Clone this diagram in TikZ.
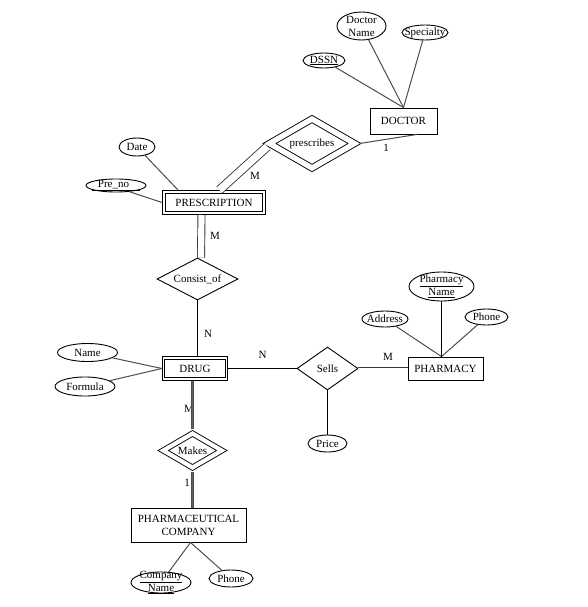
\documentclass[tikz,border=0pt]{standalone}
\usepackage{fontspec}
\setmainfont{Liberation Serif}
\usetikzlibrary{
    shapes.geometric,
    positioning
}
\tikzset{erent/.style={rectangle, draw=black, line width=0.9pt, inner sep=0pt}}
\tikzset{erweak/.style={erent, double, double distance=2.3pt, outer sep=2pt}}
\tikzset{erattr/.style={ellipse, draw=black, line width=0.9pt, inner sep=0pt}}
\tikzset{errel/.style={diamond, aspect=1.8, draw=black, line width=0.9pt, inner sep=0pt}}
\tikzset{erwrel/.style={errel, double, double distance=4.2pt, outer sep=3pt}}
\tikzset{attl/.style={draw=gray!60!black, line width=1pt}}
\tikzset{dbl/.style={draw=gray!45!black, line width=0.9pt, double, double distance=6.2pt}}
\tikzset{thk/.style={draw=gray!60!black, line width=1pt, double=gray!75!black, double distance=1.8pt}}

\begin{document}
\begin{tikzpicture}[x=1pt, y=-1pt, font=\fontsize{11}{13}\selectfont]
    \useasboundingbox (0,0) rectangle (587,607);
    % entities and relations, placed by pixel position
    \node[erent, minimum width=67pt, minimum height=26pt] (doc) at (403.5,121) {DOCTOR};
    \node[erattr, minimum width=49pt, minimum height=28pt, label={[align=center]center:Doctor\\Name}] (dname) at (361.5,26) {};
    \node[erattr, minimum width=46pt, minimum height=15pt, label=center:Specialty] (spec) at (425,32.5) {};
    \node[erattr, minimum width=42pt, minimum height=15pt, label=center:\underline{DSSN}] (dssn) at (324,60.5) {};
    \node[erwrel, minimum width=88pt, minimum height=52pt, double distance=5.4pt, outer sep=3.6pt] (pres) at (312,143.5) {prescribes};

    \node[erweak, minimum width=100pt, minimum height=21pt] (presc) at (214,202.5) {PRESCRIPTION};
    \node[erattr, minimum width=36pt, minimum height=18pt, label=center:Date] (date) at (137,147) {};
    \node[erattr, minimum width=60pt, minimum height=13pt, label=center:\underline{\hspace{6pt}Pre\_no\hspace{11pt}}] (prno) at (116,185.5) {};
    \node[errel, minimum width=81pt, minimum height=42pt] (cons) at (197.5,279) {Consist\_of};

    \node[erweak, minimum width=63pt, minimum height=21pt, double distance=1.7pt, outer sep=1.7pt] (drug) at (195,368.5) {DRUG};
    \node[erattr, minimum width=60pt, minimum height=18pt, label=center:Name] (dnm) at (87.5,352.5) {};
    \node[erattr, minimum width=60pt, minimum height=19pt, label=center:Formula] (form) at (85,386.5) {};
    \node[errel, minimum width=61pt, minimum height=43pt] (sells) at (327.5,368.5) {Sells};
    \node[erattr, minimum width=39pt, minimum height=17pt, label=center:Price] (price) at (327.5,443.5) {};

    \node[erent, minimum width=75pt, minimum height=23pt] (pharm) at (445.5,368.5) {PHARMACY};
    \node[erattr, minimum width=65pt, minimum height=29pt, label={[align=center]center:\underline{Pharmacy}\\\underline{Name}}] (pnm) at (441.5,286.5) {};
    \node[erattr, minimum width=46pt, minimum height=16pt, label=center:Address] (addr) at (385,319) {};
    \node[erattr, minimum width=43pt, minimum height=16pt, label=center:Phone] (pphone) at (486.5,317) {};

    \node[erwrel, minimum width=61pt, minimum height=36.5pt] (makes) at (192.5,450.5) {Makes};
    \node[erent, minimum width=115pt, minimum height=34pt, align=center] (comp) at (188.5,525) {PHARMACEUTICAL\\COMPANY};
    \node[erattr, minimum width=60pt, minimum height=21pt, label={[align=center]center:\underline{Company}\\\underline{Name}}] (cname) at (161,582.5) {};
    \node[erattr, minimum width=44pt, minimum height=17pt, label=center:Phone] (cphone) at (231,578.5) {};

    % cardinalities
    \node (cpres1) at (386,148) {1};
    \node (cpres2) at (255,176) {M};
    \node (ccons1) at (215,236) {M};
    \node (ccons2) at (208,334) {N};
    \node (csell1) at (262.5,355) {N};
    \node (csell2) at (388,357) {M};
    \node (cmake1) at (189,409) {M};
    \node (cmake2) at (187,483) {1};

    \draw[attl]
    (dssn) edge (doc.north)
    (dname) edge (doc.north)
    (spec) edge (doc.north)
    (pres.east) edge ([xshift=13.5pt]doc.south)
    (date) edge ([xshift=16pt]presc.north west)
    (prno.-25) edge (presc.west)
    (dnm) edge (drug.west)
    (form) edge (drug.west)
    (addr) edge ([xshift=-4pt]pharm.north)
    (pphone) edge ([xshift=-4pt]pharm.north)
    ([xshift=2pt]comp.south) edge (cname)
    ([xshift=2pt]comp.south) edge (cphone);

    \draw[dbl, double distance=7.4pt] ([xshift=5.5pt]presc.north) -- ([xshift=3pt,yshift=-3pt]pres.west);
    \draw[dbl] ([xshift=-12.5pt]presc.south) -- ([xshift=3.5pt]cons.north);
    \draw[dbl, double distance=2pt] (sells.east) -- (pharm.west);
    \draw[line width=0.9pt] (cons.south) -- (cons.south |- drug.north);
    \draw[line width=0.9pt] (drug.east) -- (sells.west);
    \draw[line width=0.9pt] (sells.south) -- (price);
    \draw[line width=0.9pt] (pnm.south) -- (pnm.south |- pharm.north);
    \draw[thk] (makes.north |- drug.south) -- (makes.north);
    \draw[thk] (makes.south) -- (makes.south |- comp.north);
\end{tikzpicture}
\end{document}
